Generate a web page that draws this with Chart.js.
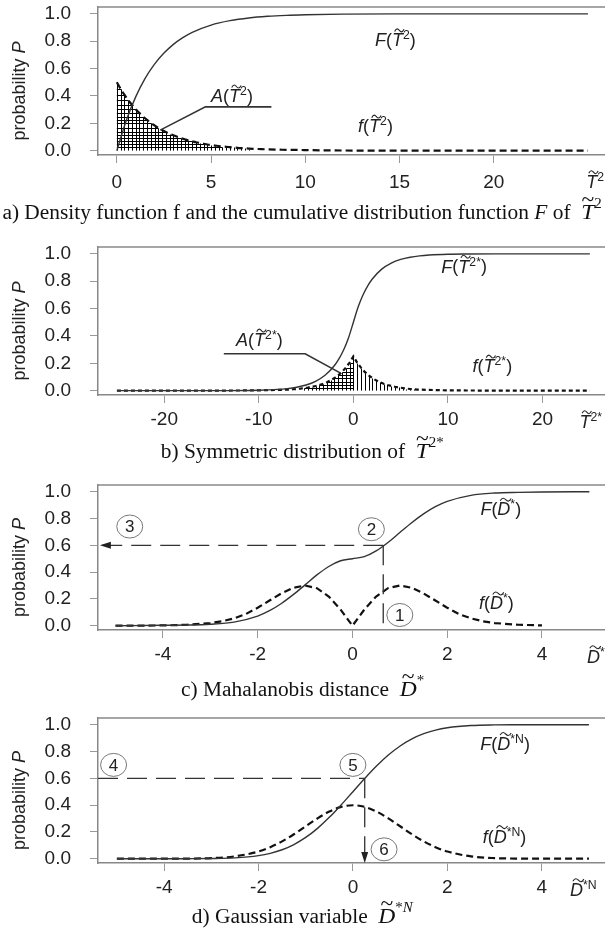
<!DOCTYPE html>
<html>
<head>
<meta charset="utf-8">
<script src="https://cdn.jsdelivr.net/npm/chart.js@4.4.1/dist/chart.umd.min.js"></script>
<style>
body { margin: 0; background: #fff; width: 605px; height: 933px; position: relative; overflow: hidden; }
canvas { position: absolute; left: 0; }
.cap { position: absolute; left: 0; width: 605px; text-align: center; z-index: 2;
       font-family: "Liberation Serif", "Times New Roman", serif; font-size: 20px; line-height: 24px; color: #111; white-space: nowrap; }
.cap > span.in { display: inline-block; transform: scaleX(1.07); }
.tl { position: relative; display: inline-block; font-style: italic; font-size: 22px; }
.tl::after { content: "~"; position: absolute; left: 0; right: 0; text-align: center; top: -0.6em; font-style: normal; }
.cap sup { font-size: 14px; line-height: 0; position: relative; top: -3px; }
</style>
</head>
<body>
<canvas id="ca" width="605" height="200" style="top:0px"></canvas>
<canvas id="cb" width="605" height="200" style="top:240px"></canvas>
<canvas id="cc" width="605" height="197" style="top:478px"></canvas>
<canvas id="cd" width="605" height="197" style="top:711px"></canvas>

<div class="cap" style="top:200px"><span class="in">a) Density function f and the cumulative distribution function <i>F</i> of&nbsp; <span class="tl">T</span><sup>2</sup></span></div>
<div class="cap" style="top:439px"><span class="in">b) Symmetric distribution of&nbsp; <span class="tl">T</span><sup>2*</sup></span></div>
<div class="cap" style="top:677px"><span class="in">c) Mahalanobis distance&nbsp; <span class="tl">D</span><sup>*</sup></span></div>
<div class="cap" style="top:904px"><span class="in">d) Gaussian variable&nbsp; <span class="tl">D</span><sup>*<i>N</i></sup></span></div>

<script>
// ---- panel a: T~2 ----
const aX_F = [0, 0.5, 1, 1.5, 2, 2.5, 3, 3.5, 4, 5, 6, 7, 8, 9, 10, 12, 15, 20, 25];
const aY_F = [0, 0.221, 0.393, 0.528, 0.632, 0.713, 0.777, 0.826, 0.865, 0.918, 0.950, 0.970, 0.982, 0.989, 0.993, 0.998, 1, 1, 1];
const aX_f = [0, 0.2, 0.4, 0.6, 0.8, 1, 1.2, 1.4, 1.6, 1.8, 2, 2.2, 2.4, 2.6, 2.8, 3, 3.2, 3.4, 3.6, 3.8,
              4, 4.2, 4.4, 4.6, 4.8, 5, 5.2, 5.4, 5.6, 5.8, 6, 6.2, 6.4, 6.6, 6.8, 7, 7.5, 8, 9, 10, 11, 12, 15, 20, 25];
const aY_f = [0.500, 0.452, 0.409, 0.370, 0.335, 0.303, 0.274, 0.248, 0.225, 0.203, 0.184, 0.166, 0.151, 0.136, 0.123,
              0.112, 0.101, 0.091, 0.083, 0.075, 0.068, 0.061, 0.055, 0.050, 0.045, 0.041, 0.037, 0.034, 0.030, 0.028,
              0.025, 0.023, 0.020, 0.018, 0.017, 0.015, 0.012, 0.009, 0.006, 0.004, 0.002, 0.001, 0, 0, 0];
const aTicks = [0, 5, 10, 15, 20];

// ---- panel b: symmetric T~2* ----
const bX_F = [-25, -15, -10, -8, -7, -6, -5, -4, -3, -2, -1.5, -1, -0.5, 0, 0.5, 1, 1.5, 2, 3, 4, 5, 6, 7, 8, 10, 12, 15, 25];
const bY_F = [0, 0, 0.003, 0.009, 0.015, 0.025, 0.041, 0.068, 0.112, 0.184, 0.236, 0.303, 0.389, 0.5,
              0.611, 0.697, 0.764, 0.816, 0.888, 0.932, 0.959, 0.975, 0.985, 0.991, 0.997, 0.999, 1, 1];
const bX_f = [-25, -20, -15, -12, -10, -8, -6.8, -6.4, -6, -5.6, -5.2, -4.8, -4.4, -4, -3.6, -3.2, -2.8, -2.4, -2, -1.6, -1.2, -0.8, -0.4,
              0, 0.4, 0.8, 1.2, 1.6, 2, 2.4, 2.8, 3.2, 3.6, 4, 4.4, 4.8, 5.2, 5.6, 6, 6.4, 6.8, 8, 10, 12, 15, 20, 25];
const bY_f = [0, 0, 0, 0.001, 0.002, 0.005, 0.008, 0.010, 0.012, 0.015, 0.019, 0.023, 0.028, 0.034, 0.041, 0.050, 0.062, 0.075, 0.092, 0.112, 0.137, 0.168, 0.205,
              0.250, 0.205, 0.168, 0.137, 0.112, 0.092, 0.075, 0.062, 0.050, 0.041, 0.034, 0.028, 0.023, 0.019, 0.015, 0.012, 0.010, 0.008, 0.005, 0.002, 0.001, 0, 0, 0];
const bTicks = [-20, -10, 0, 10, 20];

// ---- panel c: Mahalanobis distance D~* ----
const cX_F = [-5, -4, -3.5, -3, -2.5, -2, -1.75, -1.5, -1.25, -1, -0.75, -0.5, -0.25, 0, 0.25, 0.5, 0.75, 1, 1.25, 1.5, 1.75, 2, 2.5, 3, 3.5, 4, 5];
const cY_F = [0, 0.003, 0.005, 0.011, 0.027, 0.072, 0.112, 0.166, 0.232, 0.305, 0.379, 0.442, 0.485, 0.5,
              0.515, 0.558, 0.621, 0.695, 0.768, 0.834, 0.888, 0.928, 0.973, 0.990, 0.995, 0.998, 1];
const cX_f = [-5, -4.5, -4, -3.5, -3, -2.75, -2.5, -2.25, -2, -1.75, -1.5, -1.25, -1, -0.75, -0.5, -0.25, 0,
              0.25, 0.5, 0.75, 1, 1.25, 1.5, 1.75, 2, 2.25, 2.5, 2.75, 3, 3.5, 4];
const cY_f = [0, 0.0005, 0.002, 0.007, 0.02, 0.033, 0.055, 0.087, 0.134, 0.188, 0.241, 0.283, 0.300, 0.280, 0.218, 0.120, 0,
              0.120, 0.218, 0.280, 0.300, 0.283, 0.241, 0.188, 0.134, 0.087, 0.055, 0.033, 0.02, 0.007, 0.002];
const cTicks = [-4, -2, 0, 2, 4];

// ---- panel d: Gaussian D~*N ----
const dX = [-5, -4.5, -4, -3.5, -3, -2.5, -2, -1.75, -1.5, -1.25, -1, -0.75, -0.5, -0.25, 0,
            0.25, 0.5, 0.75, 1, 1.25, 1.5, 1.75, 2, 2.5, 3, 3.5, 4, 4.5, 5];
const dY_F = [0, 0, 0, 0.0002, 0.0013, 0.0062, 0.0228, 0.0401, 0.0668, 0.1056, 0.1587, 0.2266, 0.3085, 0.4013, 0.5,
              0.5987, 0.6915, 0.7734, 0.8413, 0.8944, 0.9332, 0.9599, 0.9772, 0.9938, 0.9987, 0.9998, 1, 1, 1];
const dY_f = [0, 0, 0.0001, 0.0009, 0.0044, 0.0175, 0.054, 0.086, 0.1295, 0.1826, 0.242, 0.3011, 0.352, 0.3867, 0.399,
              0.3867, 0.352, 0.3011, 0.242, 0.1826, 0.1295, 0.086, 0.054, 0.0175, 0.0044, 0.0009, 0.0001, 0, 0];
const dTicks = [-4, -2, 0, 2, 4];

const yTicks = [0, 0.2, 0.4, 0.6, 0.8, 1.0];

const SANS = '"Liberation Sans", Arial, Helvetica, sans-serif';
const Y_MIN = -0.032, Y_MAX = 1.05;

function pts(xs, ys) {
    return xs.map((x, i) => ({ x: x, y: ys[i] }));
}

function drawTilde(ctx, cx, cy, w, h) {
    const a = cx - w / 2;
    ctx.save();
    ctx.lineWidth = 1.1;
    ctx.setLineDash([]);
    ctx.beginPath();
    ctx.moveTo(a, cy + h * 0.5);
    ctx.bezierCurveTo(a + w * 0.2, cy - h * 1.2, a + w * 0.35, cy - h * 0.8, a + w * 0.5, cy);
    ctx.bezierCurveTo(a + w * 0.65, cy + h * 0.8, a + w * 0.8, cy + h * 1.2, a + w, cy - h * 0.5);
    ctx.stroke();
    ctx.restore();
}

// parts: [text, flags] flags: i = italic, s = superscript, t = italic letter with tilde
function mathText(ctx, x, y, parts, size, dry) {
    let cx = x;
    parts.forEach(([t, f = '']) => {
        const sup = f.includes('s');
        const sz = sup ? size * 0.68 : size;
        ctx.font = ((f.includes('i') || f.includes('t')) ? 'italic ' : '') + sz + 'px ' + SANS;
        ctx.textAlign = 'left';
        ctx.textBaseline = 'middle';
        const w = ctx.measureText(t).width;
        if (!dry) {
            ctx.fillText(t, cx, sup ? y - size * 0.3 : y);
            if (f.includes('t')) drawTilde(ctx, cx + w * 0.5 + size * 0.1, y - size * 0.6, w * 0.85, size * 0.12);
        }
        cx += w;
    });
    return cx - x;
}

function makePanel(id, p) {
    const deco = {
        id: 'deco',
        beforeDatasetsDraw(chart) {
            if (!p.hatch) return;
            const ctx = chart.ctx;
            const x0 = chart.scales.x.getPixelForValue(0);
            const y0 = chart.scales.y.getPixelForValue(0);
            const meta = chart.getDatasetMeta(1);
            let lastH = -1e9;
            ctx.save();
            ctx.strokeStyle = '#000';
            ctx.lineWidth = 1;
            ctx.beginPath();
            meta.data.forEach((pt, i) => {
                const v = p.fx[i];
                if (v < p.hatch[0] || v > p.hatch[1]) return;
                const px = Math.round(pt.x) + 0.5, py = Math.round(pt.y) + 0.5;
                ctx.moveTo(px, py); ctx.lineTo(px, y0);
                // horizontal strokes back to x = 0 only where they are visibly apart
                if (v >= p.hatchH[0] && v <= p.hatchH[1] && Math.abs(py - lastH) >= 3) {
                    ctx.moveTo(px, py); ctx.lineTo(x0, py);
                    lastH = py;
                }
            });
            ctx.stroke();
            ctx.restore();
        },
        afterDraw(chart) {
            const ctx = chart.ctx, a = chart.chartArea;
            const X = v => chart.scales.x.getPixelForValue(v);
            const Y = v => chart.scales.y.getPixelForValue(v);
            ctx.save();

            // top frame line
            ctx.strokeStyle = '#888';
            ctx.lineWidth = 1.5;
            ctx.beginPath(); ctx.moveTo(a.left, a.top); ctx.lineTo(a.right, a.top); ctx.stroke();

            // y title
            const yt = [['probability '], ['P', 'i']];
            ctx.fillStyle = '#222';
            ctx.save();
            ctx.translate(20, (a.top + a.bottom) / 2 + 10);
            ctx.rotate(-Math.PI / 2);
            const tw = mathText(ctx, 0, 0, yt, 18, true);
            mathText(ctx, -tw / 2, 0, yt, 18);
            ctx.restore();

            // dashed guide lines
            (p.guides || []).forEach(g => {
                const x1 = X(g.from[0]), y1 = Y(g.from[1]), x2 = X(g.to[0]), y2 = Y(g.to[1]);
                ctx.strokeStyle = '#333';
                ctx.lineWidth = 1.3;
                ctx.setLineDash([20, 9]);
                ctx.beginPath(); ctx.moveTo(x1, y1); ctx.lineTo(x2, y2); ctx.stroke();
                ctx.setLineDash([]);
                if (g.arrow) {
                    const ang = Math.atan2(y2 - y1, x2 - x1), L = 11, W = 3.5;
                    ctx.fillStyle = '#222';
                    ctx.beginPath();
                    ctx.moveTo(x2, y2);
                    ctx.lineTo(x2 - L * Math.cos(ang) - W * Math.sin(ang), y2 - L * Math.sin(ang) + W * Math.cos(ang));
                    ctx.lineTo(x2 - L * Math.cos(ang) + W * Math.sin(ang), y2 - L * Math.sin(ang) - W * Math.cos(ang));
                    ctx.closePath();
                    ctx.fill();
                }
            });

            // leader line of area label
            if (p.leader) {
                ctx.strokeStyle = '#333';
                ctx.lineWidth = 1.6;
                ctx.beginPath();
                p.leader.forEach((q, i) => i ? ctx.lineTo(X(q[0]), Y(q[1])) : ctx.moveTo(X(q[0]), Y(q[1])));
                ctx.stroke();
            }

            // circled step numbers
            (p.circles || []).forEach(c => {
                ctx.strokeStyle = '#777';
                ctx.lineWidth = 1;
                ctx.beginPath();
                ctx.ellipse(X(c.x), Y(c.y), 13, 11.5, 0, 0, Math.PI * 2);
                ctx.stroke();
                ctx.fillStyle = '#222';
                ctx.font = '17px ' + SANS;
                ctx.textAlign = 'center';
                ctx.textBaseline = 'middle';
                ctx.fillText(c.n, X(c.x), Y(c.y) + 1);
            });

            // curve labels
            ctx.fillStyle = '#222';
            ctx.strokeStyle = '#222';
            (p.labels || []).forEach(l => mathText(ctx, X(l.x), Y(l.y), l.p, 18));

            // axis variable at right end of x axis
            mathText(ctx, X(p.axisLabel.x), a.bottom + 28, p.axisLabel.p, 18);
            ctx.restore();
        }
    };

    return new Chart(document.getElementById(id), {
        type: 'line',
        data: {
            datasets: [
                {
                    data: pts(p.Fx, p.Fy), borderColor: '#333', borderWidth: 1.4,
                    pointRadius: 0, fill: false, cubicInterpolationMode: 'monotone'
                },
                {
                    data: pts(p.fx, p.fy), borderColor: '#111', borderWidth: 2.2, borderDash: p.dash,
                    pointRadius: 0, fill: false, tension: 0,
                    cubicInterpolationMode: p.fSmooth ? 'monotone' : 'default'
                }
            ]
        },
        options: {
            responsive: false,
            animation: false,
            devicePixelRatio: 1,
            layout: { padding: { top: 7, left: 0, right: 0, bottom: 0 } },
            plugins: { legend: { display: false }, tooltip: { enabled: false } },
            scales: {
                x: {
                    type: 'linear', min: p.xMin, max: p.xMax,
                    afterBuildTicks: s => { s.ticks = p.ticks.map(v => ({ value: v })); },
                    afterFit: s => { s.height = 45; s.paddingLeft = 0; s.paddingRight = 0; },
                    ticks: {
                        font: { family: SANS, size: 19 }, color: '#222', padding: p.tickPad,
                        maxRotation: 0, autoSkip: false, callback: v => String(v)
                    },
                    grid: { drawOnChartArea: false, drawTicks: true, tickLength: 8, color: '#999', lineWidth: 1 },
                    border: { display: true, color: '#888', width: 1.5 }
                },
                y: {
                    min: Y_MIN, max: Y_MAX,
                    afterBuildTicks: s => { s.ticks = yTicks.map(v => ({ value: v })); },
                    afterFit: s => { s.width = 98; s.paddingTop = 0; s.paddingBottom = 0; },
                    ticks: {
                        font: { family: SANS, size: 19 }, color: '#222', padding: 19,
                        autoSkip: false, callback: v => v.toFixed(1)
                    },
                    grid: { drawOnChartArea: false, drawTicks: true, tickLength: 8, color: '#999', lineWidth: 1 },
                    border: { display: true, color: '#888', width: 1.5 }
                }
            }
        },
        plugins: [deco]
    });
}

const T2 = [['T', 't'], ['2', 's']];
const T2s = [['T', 't'], ['2*', 's']];
const Ds = [['D', 't'], ['*', 's']];
const DsN = [['D', 't'], ['*', 's'], ['N', 's']];

makePanel('ca', {
    Fx: aX_F, Fy: aY_F, fx: aX_f, fy: aY_f, ticks: aTicks, xMin: -1, xMax: 25.9, tickPad: 8,
    dash: [7, 4], fSmooth: true, hatch: [0, 7], hatchH: [0, 7],
    leader: [[2.3, 0.15], [4.7, 0.32], [8.2, 0.32]],
    labels: [
        { x: 13.7, y: 0.8, p: [['F', 'i'], ['(']].concat(T2, [[')']]) },
        { x: 12.8, y: 0.17, p: [['f', 'i'], ['(']].concat(T2, [[')']]) },
        { x: 5.0, y: 0.39, p: [['A', 'i'], ['(']].concat(T2, [[')']]) }
    ],
    axisLabel: { x: 24.9, p: T2 }
});

makePanel('cb', {
    Fx: bX_F, Fy: bY_F, fx: bX_f, fy: bY_f, ticks: bTicks, xMin: -27, xMax: 26.6, tickPad: 5,
    dash: [4, 3], fSmooth: false, hatch: [-5.2, 6.8], hatchH: [-5.2, 0],
    leader: [[-13.7, 0.27], [-5.1, 0.27], [-1.4, 0.13]],
    labels: [
        { x: 9.3, y: 0.9, p: [['F', 'i'], ['(']].concat(T2s, [[')']]) },
        { x: 12.6, y: 0.17, p: [['f', 'i'], ['(']].concat(T2s, [[')']]) },
        { x: -12.4, y: 0.36, p: [['A', 'i'], ['(']].concat(T2s, [[')']]) }
    ],
    axisLabel: { x: 23.9, p: T2s }
});

makePanel('cc', {
    Fx: cX_F, Fy: cY_F, fx: cX_f, fy: cY_f, ticks: cTicks, xMin: -5.37, xMax: 5.33, tickPad: 5,
    dash: [7, 4], fSmooth: false,
    guides: [
        { from: [0.65, 0.6], to: [-5.33, 0.6], arrow: true },
        { from: [0.65, 0.6], to: [0.65, Y_MIN] }
    ],
    circles: [{ x: -4.7, y: 0.74, n: '3' }, { x: 0.4, y: 0.72, n: '2' }, { x: 1.0, y: 0.08, n: '1' }],
    labels: [
        { x: 2.7, y: 0.86, p: [['F', 'i'], ['(']].concat(Ds, [[')']]) },
        { x: 2.67, y: 0.16, p: [['f', 'i'], ['(']].concat(Ds, [[')']]) }
    ],
    axisLabel: { x: 4.95, p: Ds }
});

makePanel('cd', {
    Fx: dX, Fy: dY_F, fx: dX, fy: dY_f, ticks: dTicks, xMin: -5.4, xMax: 5.34, tickPad: 5,
    dash: [7, 4], fSmooth: true,
    guides: [
        { from: [-5.4, 0.6], to: [0.25, 0.6] },
        { from: [0.25, 0.6], to: [0.25, Y_MIN], arrow: true }
    ],
    circles: [{ x: -5.07, y: 0.70, n: '4' }, { x: 0, y: 0.70, n: '5' }, { x: 0.66, y: 0.07, n: '6' }],
    labels: [
        { x: 2.7, y: 0.85, p: [['F', 'i'], ['(']].concat(DsN, [[')']]) },
        { x: 2.75, y: 0.155, p: [['f', 'i'], ['(']].concat(DsN, [[')']]) }
    ],
    axisLabel: { x: 4.6, p: DsN }
});
</script>
</body>
</html>
